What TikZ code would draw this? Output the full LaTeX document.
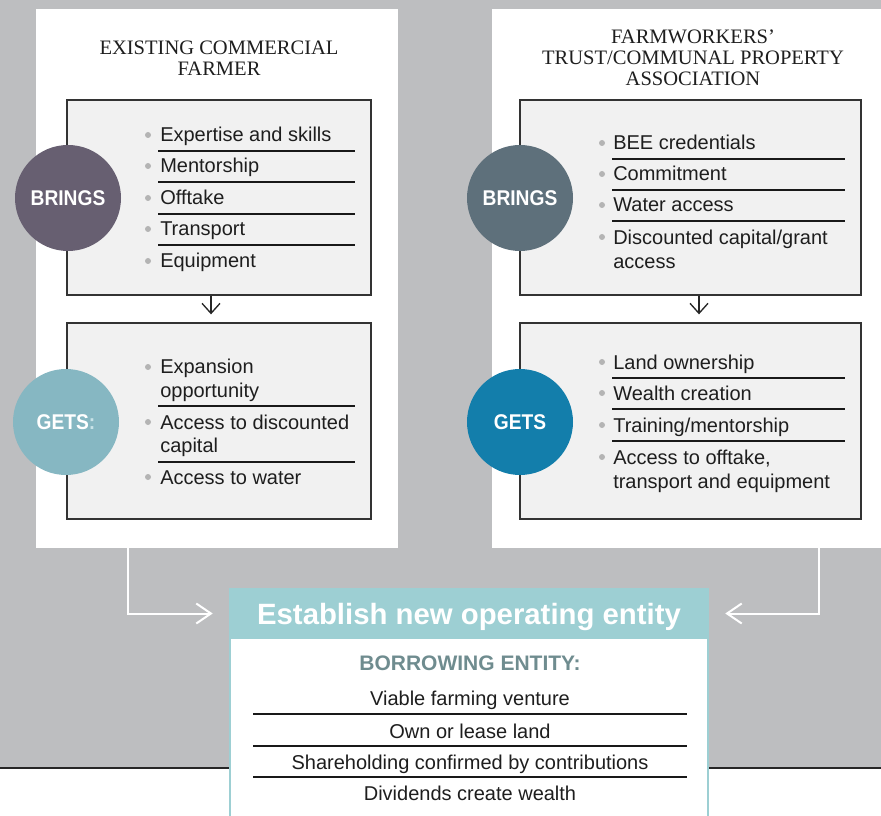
\documentclass[tikz,border=0pt]{standalone}
\usepackage{fontspec}
\setmainfont{Liberation Sans}
\newfontfamily\headfont{Liberation Serif}
\newfontfamily\condfont[FakeStretch=0.9]{Liberation Sans}
\usetikzlibrary{arrows.meta}
\definecolor{bggray}{HTML}{BDBEC0}
\definecolor{boxgray}{HTML}{F1F1F1}
\definecolor{plum}{HTML}{675F71}
\definecolor{paleteal}{HTML}{86B7C2}
\definecolor{palecolon}{HTML}{C9E3E8}
\definecolor{slate}{HTML}{5E707B}
\definecolor{deepblue}{HTML}{137EAB}
\definecolor{headteal}{HTML}{9DCFD3}
\definecolor{entitygray}{HTML}{6F8C8F}
\definecolor{bulletgray}{HTML}{B4B4B4}
\definecolor{textgray}{HTML}{1E1E1E}

\begin{document}
\begin{tikzpicture}[x=0.75pt, y=-0.75pt,
  panel/.style={fill=white, inner sep=0},
  heading/.style={align=center, inner sep=0, text=textgray, font=\headfont\fontsize{15.4}{15.6}\selectfont},
  listbox/.style={draw=black!80, line width=1pt, fill=boxgray, inner sep=0},
  roundel/.style={circle, inner sep=0, minimum size=79.5pt, text=white, font=\condfont\bfseries\fontsize{16}{18}\selectfont},
  dot/.style={circle, fill=bulletgray, inner sep=0, minimum size=4.5pt},
  item/.style={anchor=base west, align=left, inner sep=0, text=textgray, font=\fontsize{15}{18}\selectfont},
  entityitem/.style={anchor=base, inner sep=0, text=textgray, font=\fontsize{15}{18}\selectfont},
  rule/.style={line width=0.8pt, black!90},
  downarr/.style={-{Straight Barb[length=7.5pt,width=13.5pt]}, line width=1pt, black!85},
  flowarr/.style={-{Straight Barb[length=11pt,width=15pt]}, line width=1.5pt, white}]
\useasboundingbox (0,0) rectangle (881,816);
\fill[bggray] (0,0) rectangle (881,768);
\draw[line width=1pt, black!85] (0,768) -- (881,768);

% panels
\node[panel, minimum width=271.5pt, minimum height=404.25pt] (lpanel) at (217,278.5) {};
\node[panel, minimum width=291.75pt, minimum height=404.25pt] (rpanel) at (686.5,278.5) {};

\node[heading] (lhead) at (219,58) {EXISTING COMMERCIAL\\FARMER};
\node[heading] (rhead) at (693,57.5) {FARMWORKERS’\\TRUST/COMMUNAL PROPERTY\\ASSOCIATION};

% list boxes
\node[listbox, minimum width=228pt, minimum height=146.25pt] (lbrings) at (219,197.5) {};
\node[listbox, minimum width=228pt, minimum height=147pt] (lgets) at (219,421) {};
\node[listbox, minimum width=255.75pt, minimum height=146.25pt] (rbrings) at (690.5,197.5) {};
\node[listbox, minimum width=255.75pt, minimum height=147pt] (rgets) at (690.5,421) {};

\draw[downarr] ([shift={(-8,0)}]lbrings.south) -- ([shift={(-8,-8)}]lgets.north);
\draw[downarr] ([shift={(8.5,0)}]rbrings.south) -- ([shift={(8.5,-8)}]rgets.north);

% left lists (dot y / last baseline / text)
\foreach \y/\b/\t in {135/142/Expertise and skills, 166/173/Mentorship, 198/205/Offtake, 229/236/Transport, 261/268/Equipment} {
  \node[dot] (lbd-\y) at (148,\y) {};
  \node[item] (lbi-\y) at (160,\b) {\t};
}
\foreach \y in {151,182,214,245} \draw[rule] (158,\y) -- (355,\y);

\foreach \y/\b/\t in {367/397/{Expansion\\opportunity}, 422/452/{Access to discounted\\capital}, 477/484/{Access to water}} {
  \node[dot] (lgd-\y) at (148,\y) {};
  \node[item, font=\fontsize{15}{17.25}\selectfont] (lgi-\y) at (160,\b) {\t};
}
\foreach \y in {406,462} \draw[rule] (158,\y) -- (355,\y);

% right lists
\foreach \y/\b/\t in {143/150/{BEE credentials}, 174/181/{Commitment}, 205/212/{Water access}, 237/269/{Discounted capital/grant\\access}} {
  \node[dot] (rbd-\y) at (602,\y) {};
  \node[item] (rbi-\y) at (613,\b) {\t};
}
\foreach \y in {159,190,221} \draw[rule] (612,\y) -- (845,\y);

\foreach \y/\b/\t in {362/369/{Land ownership}, 393/400/{Wealth creation}, 425/432/{Training/mentorship}, 457/488/{Access to offtake,\\transport and equipment}} {
  \node[dot] (rgd-\y) at (602,\y) {};
  \node[item] (rgi-\y) at (613,\b) {\t};
}
\foreach \y in {378,409,441} \draw[rule] (612,\y) -- (845,\y);

% circles
\node[roundel, fill=plum] (lbring) at (68,198) {BRINGS};
\node[roundel, fill=paleteal] (lget) at (66,422) {GETS{\color{palecolon}:}};
\node[roundel, fill=slate] (rbring) at (520,198) {BRINGS};
\node[roundel, fill=deepblue] (rget) at (520,422) {GETS};

% new entity
\draw[line width=1.5pt, draw=headteal, fill=white] (230,600) rectangle (708,840);
\node[fill=headteal, inner sep=0, text depth=0pt, minimum width=360pt, minimum height=38.25pt, text=white, font=\bfseries\fontsize{22}{26}\selectfont] (head) at (469,613.5) {Establish new operating entity};
\node[inner sep=0, text=entitygray, font=\bfseries\fontsize{15.75}{18}\selectfont] (borrow) at (470,663) {BORROWING ENTITY:};
\foreach \y/\t in {698/{Viable farming venture}, 731/{Own or lease land}, 762/{Shareholding confirmed by contributions}, 793/{Dividends create wealth}}
  \node[entityitem] (ent-\y) at (470,\y+7) {\t};
\foreach \y in {714,746,777} \draw[rule] (253,\y) -- (687,\y);

\draw[flowarr] ([shift={(92,0)}]lpanel.south west) |- ([shift={(-16,0)}]head.west);
\draw[flowarr] ([shift={(-62,0)}]rpanel.south east) |- ([shift={(16,0)}]head.east);
\end{tikzpicture}
\end{document}
